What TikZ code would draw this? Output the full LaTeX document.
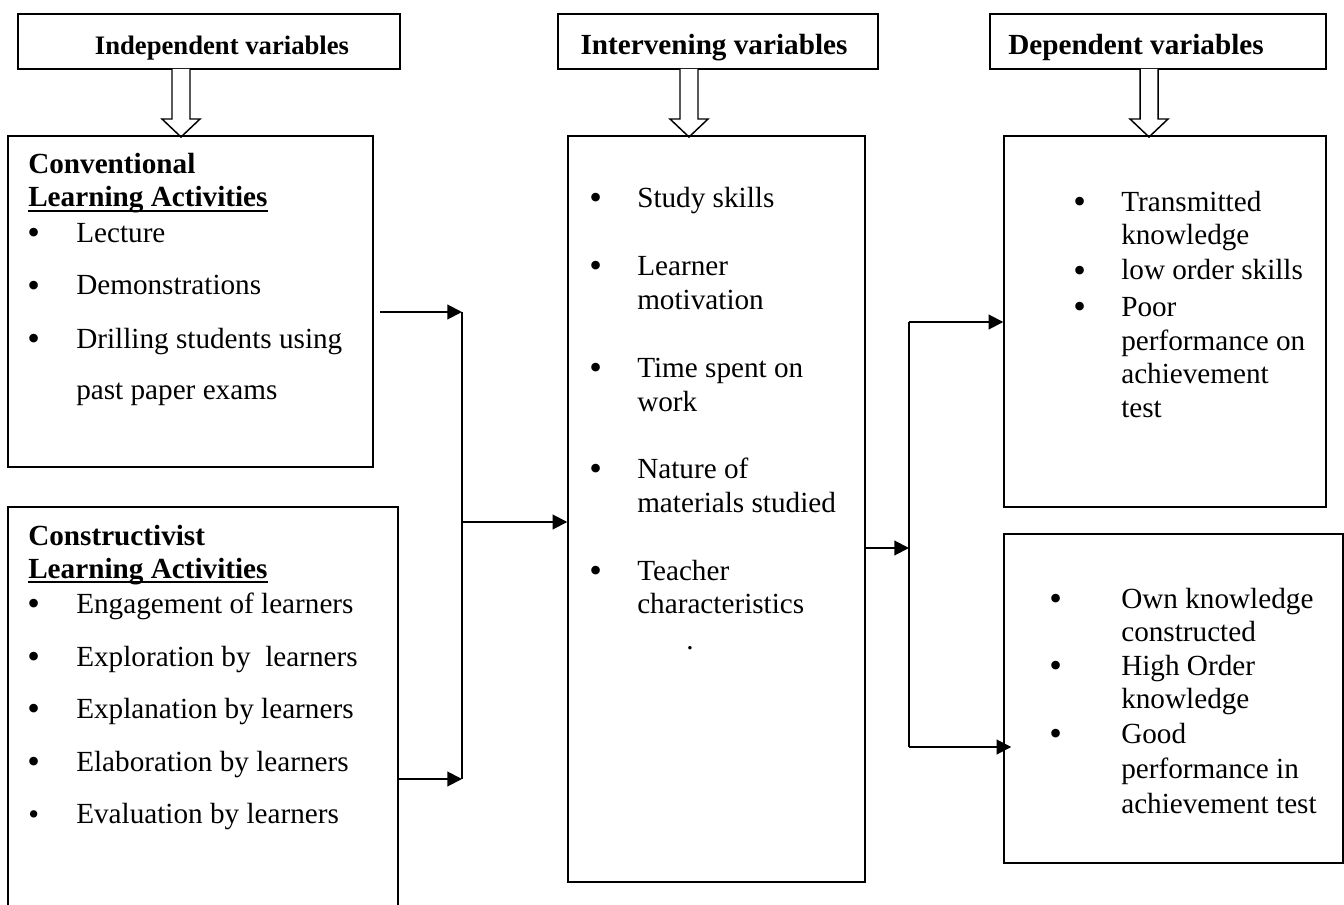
\documentclass[tikz,border=0pt]{standalone}
\usepackage{fontspec}
\setmainfont{Liberation Serif}
\usetikzlibrary{arrows.meta,fit}
\newcommand\myul[1]{\setbox0\hbox{#1}\rlap{\rule[-3.6pt]{\wd0}{1.6pt}}\box0}
\begin{document}
\begin{tikzpicture}[x=0.75pt,y=-0.75pt,
 box/.style={draw,line width=1.1pt,inner sep=0pt,rectangle},
 txt/.style={anchor=base west,inner sep=0pt,font=\fontsize{21.9}{24}\selectfont},
 hd/.style={anchor=base,inner sep=0pt,font=\fontsize{21.9}{24}\selectfont\bfseries},
 bul/.style={anchor=base west,inner sep=0pt,font=\fontsize{27}{27}\selectfont},
 conn/.style={line width=1.5pt,-{Triangle[length=11pt,width=11pt]}},
 joinline/.style={line width=1.4pt},
 hollow/.style={draw,line width=1.1pt,fill=white}]
\useasboundingbox (0,0) rectangle (1344,905);

% header boxes
\node[box,fit={(18,14)(400,69)}] (h1) {};
\node[box,fit={(558,14)(878,69)}] (h2) {};
\node[box,fit={(990,14)(1326,69)}] (h3) {};
\node[hd,font=\fontsize{20}{24}\selectfont\bfseries] (h1t) at (222,55) {Independent variables};
\node[hd] (h2t) at (714,55) {Intervening variables};
\node[hd] (h3t) at (1136,55) {Dependent variables};

% hollow arrows
\draw[hollow] (172,69) -- (172,119) -- (162,119) -- (181,137) -- (200,119) -- (190,119) -- (190,69);
\draw[hollow] (680,69) -- (680,119) -- (670,119) -- (689,137) -- (708,119) -- (698,119) -- (698,69);
\draw[hollow] (1140,69) -- (1140,119) -- (1130,119) -- (1149,137) -- (1168,119) -- (1158,119) -- (1158,69);

% main boxes
\node[box,fit={(8,136)(373,467)}] (conv) {};
\node[box,fit={(8,507)(398,915)}] (cons) {};
\node[box,fit={(568,136)(865,882)}] (intv) {};
\node[box,fit={(1004,136)(1326,507)}] (dtop) {};
\node[box,fit={(1004,534)(1343,863)}] (dbot) {};

% conventional
\node[txt] (a0) at (28,174) {\textbf{Conventional}};
\node[txt] (a1) at (28,207) {\textbf{\myul{Learning Activities}}};
\node[bul] (ab1) at (27,245) {•};
\node[txt] (a2) at (76,243) {Lecture};
\node[bul] (ab2) at (27,297) {•};
\node[txt] (a3) at (76,295) {Demonstrations};
\node[bul] (ab3) at (27,350) {•};
\node[txt] (a4) at (76,348) {Drilling students using};
\node[txt] (a5) at (76,399) {past paper exams};

% constructivist
\node[txt] (b0) at (28,545) {\textbf{Constructivist}};
\node[txt] (b1) at (28,578) {\textbf{\myul{Learning Activities}}};
\node[bul] (bb1) at (27,615) {•};
\node[txt] (b2) at (76,613) {Engagement of learners};
\node[bul] (bb2) at (27,668) {•};
\node[txt] (b3) at (76,666) {Exploration by\ \ learners};
\node[bul] (bb3) at (27,720) {•};
\node[txt] (b4) at (76,718) {Explanation by learners};
\node[bul] (bb4) at (27,773) {•};
\node[txt] (b5) at (76,771) {Elaboration by learners};
\node[bul,font=\fontsize{23}{23}\selectfont] (bb5) at (28,824) {•};
\node[txt] (b6) at (76,823) {Evaluation by learners};

% intervening
\node[bul] (cb1) at (589,210) {•};
\node[txt] (c1) at (637,208) {Study skills};
\node[bul] (cb2) at (589,278) {•};
\node[txt] (c2) at (637,276) {Learner};
\node[txt] (c3) at (637,310) {motivation};
\node[bul] (cb3) at (589,379) {•};
\node[txt] (c4) at (637,377) {Time spent on};
\node[txt] (c5) at (637,411) {work};
\node[bul] (cb4) at (589,480) {•};
\node[txt] (c6) at (637,478) {Nature of};
\node[txt] (c7) at (637,512) {materials studied};
\node[bul] (cb5) at (589,582) {•};
\node[txt] (c8) at (637,580) {Teacher};
\node[txt] (c9) at (637,613) {characteristics};
\node[txt] (c10) at (686,649) {.};

% dependent top
\node[bul] (db1) at (1073,214) {•};
\node[txt] (d1) at (1121,212) {Transmitted};
\node[txt] (d2) at (1121,245) {knowledge};
\node[bul] (db2) at (1073,282) {•};
\node[txt] (d3) at (1121,280) {low order skills};
\node[bul] (db3) at (1073,318) {•};
\node[txt] (d4) at (1121,316) {Poor};
\node[txt] (d5) at (1121,350) {performance on};
\node[txt] (d6) at (1121,383) {achievement};
\node[txt] (d7) at (1121,417) {test};

% dependent bottom
\node[bul] (eb1) at (1049,610) {•};
\node[txt] (e1) at (1121,608) {Own knowledge};
\node[txt] (e2) at (1121,641) {constructed};
\node[bul] (eb2) at (1049,677) {•};
\node[txt] (e3) at (1121,675) {High Order};
\node[txt] (e4) at (1121,708) {knowledge};
\node[bul] (eb3) at (1049,745) {•};
\node[txt] (e5) at (1121,743) {Good};
\node[txt] (e6) at (1121,778) {performance in};
\node[txt] (e7) at (1121,813) {achievement test};

% connectors
\coordinate (j1) at (462,312);
\coordinate (j2) at (462,779);
\coordinate (j3) at (462,522);
\coordinate (k0) at (909,548);
\coordinate (k1) at (909,322);
\coordinate (k2) at (909,747);

\draw[conn] ([xshift=5pt]conv.east |- j1) -- (j1);
\draw[joinline] (j1) -- (j2);
\draw[conn] (cons.east |- j2) -- (j2);
\draw[conn] (j3) -- (intv.west |- j3);
\draw[conn] (intv.east |- k0) -- (k0);
\draw[joinline] (k1) -- (k2);
\draw[conn] (k1) -- (dtop.west |- k1);
\draw[conn] (k2) -- ([xshift=6pt]dbot.west |- k2);
\end{tikzpicture}
\end{document}
